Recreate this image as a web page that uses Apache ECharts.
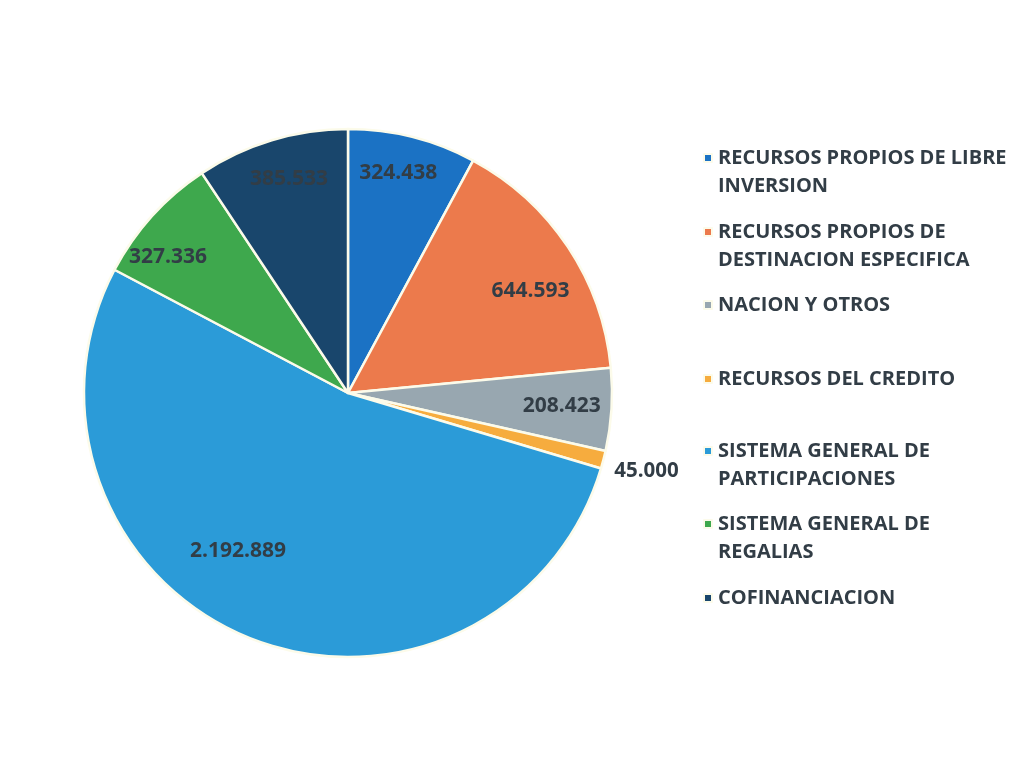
<!DOCTYPE html>
<html>
<head>
<meta charset="utf-8">
<script src="https://cdn.jsdelivr.net/npm/echarts@6/dist/echarts.min.js"></script>
<style>
html,body{margin:0;padding:0;background:#fff;}
#chart{width:1029px;height:772px;}
</style>
</head>
<body>
<div id="chart"></div>
<script>
const categories = [
  "RECURSOS PROPIOS DE LIBRE\nINVERSION",
  "RECURSOS PROPIOS DE\nDESTINACION ESPECIFICA",
  "NACION Y OTROS",
  "RECURSOS DEL CREDITO",
  "SISTEMA GENERAL DE\nPARTICIPACIONES",
  "SISTEMA GENERAL DE\nREGALIAS",
  "COFINANCIACION"
];
const values = [324438, 644593, 208423, 45000, 2192889, 327336, 385533];
const colors = ["#1b72c4", "#ec7a4c", "#98a7b0", "#f6ac3e", "#2b9bd8", "#3ea84d", "#19466c"];
const legendTops = [158, 232, 305, 379, 451, 524, 598];

function fmt(v){ return String(v).replace(/\B(?=(\d{3})+(?!\d))/g, "."); }

const textColor = "#323d46";
const FONT = "Open Sans";
const C = [348, 393], R = 264;

// label nudges to mimic the spreadsheet's best-fit placement
const nudges = {0:[-2,-12], 1:[4,17], 2:[0,0], 4:[-29,-40], 5:[-21,8], 6:[3,-9]};

const mainData = categories.map((n,i)=>({
  name:n, value:values[i],
  itemStyle:{color:colors[i]},
  label: values[i] < 100000 ? {show:true} : {show:false}
}));
const overlayData = categories.map((n,i)=>({
  name:n, value:values[i],
  label: values[i] < 100000 ? {show:false} : {show:true}
}));

const legends = categories.map((n,i)=>({
  data:[n],
  orient:'vertical',
  left:703,
  top: legendTops[i] - (n.includes("\n") ? 42 : 14),
  padding:0,
  itemWidth:8, itemHeight:8, itemGap:0,
  icon:'rect',
  selectedMode:false,
  formatter: name => name.includes("\n") ? "\n" + name : name,
  textStyle:{color:textColor, fontFamily:FONT, fontWeight:'bold', fontSize:20, lineHeight:28, padding:[0,0,0,1]}
}));

const chart = echarts.init(document.getElementById('chart'), null, {renderer:'canvas'});
chart.setOption({
  animation:false,
  backgroundColor:'#ffffff',
  color: colors,
  legend: legends,
  series:[
    {
      type:'pie', name:'main',
      center:C, radius:R,
      startAngle:90, clockwise:true,
      itemStyle:{borderColor:'#fcfbea', borderWidth:2.5},
      label:{position:'outside', formatter:p=>fmt(p.value), color:textColor, fontFamily:FONT, fontWeight:'bold', fontSize:20.5},
      labelLine:{show:false, length:6, length2:0},
      labelLayout:{dy:10},
      emphasis:{disabled:true},
      data:mainData
    },
    {
      type:'pie', name:'labels',
      center:C, radius:[R*0.6, R],
      startAngle:90, clockwise:true,
      silent:true,
      legendHoverLink:false,
      itemStyle:{color:'rgba(0,0,0,0)', borderWidth:0},
      label:{position:'inside', formatter:p=>fmt(p.value), color:textColor, fontFamily:FONT, fontWeight:'bold', fontSize:21},
      labelLine:{show:false},
      labelLayout: p => { const d = nudges[p.dataIndex] || [0,0]; return {dx:d[0], dy:d[1]}; },
      emphasis:{disabled:true},
      data:overlayData
    }
  ]
});
</script>
</body>
</html>
